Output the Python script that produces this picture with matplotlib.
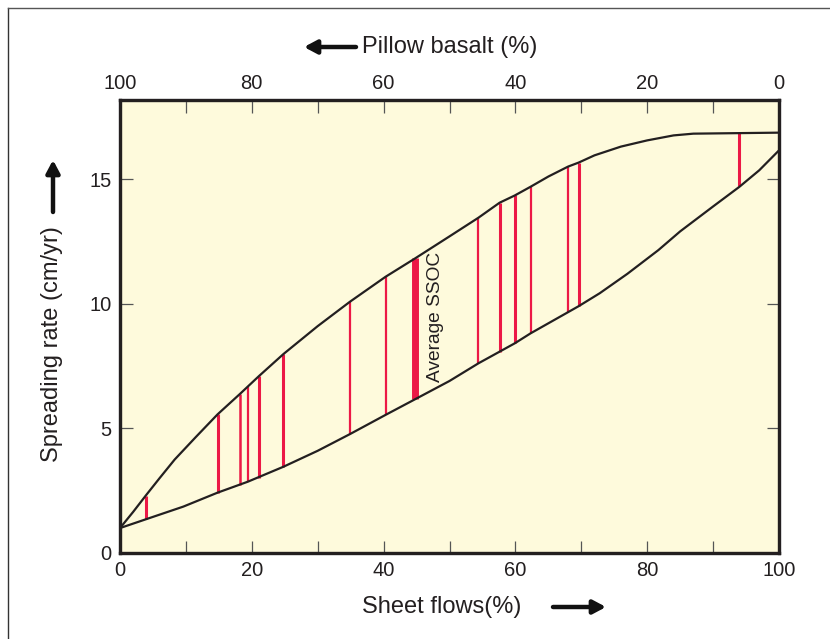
import matplotlib
matplotlib.use("Agg")
import matplotlib.pyplot as plt
from matplotlib.lines import Line2D
from matplotlib.ticker import MultipleLocator, FixedLocator
from matplotlib import font_manager

names = {f.name for f in font_manager.fontManager.ttflist}
NARROW = 'Liberation Sans Narrow' in names

plt.rcParams['font.family'] = ['Liberation Sans', 'DejaVu Sans']

# ---- data ----
upper_x = [0, 2, 3.9, 6, 8.3, 11.5, 14.8, 18.2, 21.1, 24.8, 30, 34.9, 40.3, 44.8,
           50, 54.4, 57.6, 59.9, 62.3, 65, 68.0, 69.6, 72, 76, 80, 84, 87, 100]
upper_y = [1.0, 1.65, 2.3, 3.0, 3.75, 4.65, 5.56, 6.38, 7.1, 7.98, 9.1, 10.08, 11.08, 11.82,
           12.7, 13.45, 14.05, 14.34, 14.69, 15.1, 15.5, 15.66, 15.95, 16.3, 16.55, 16.75, 16.82, 16.86]

lower_x = [0, 3.9, 9.6, 14.8, 19.4, 24.8, 30, 34.9, 40.3, 44.8, 50, 54.4, 59.9, 62.3,
           69.6, 72.8, 77, 81.7, 85, 90, 94, 97, 100]
lower_y = [1.0, 1.35, 1.86, 2.42, 2.86, 3.46, 4.1, 4.77, 5.54, 6.17, 6.9, 7.61, 8.41, 8.81,
           9.9, 10.42, 11.2, 12.15, 12.9, 13.9, 14.69, 15.35, 16.15]

# red bars: sheet-flow percentage, bottom and top spreading rate
bar_x = [3.9, 14.8, 18.2, 19.4, 21.1, 24.8, 34.9, 40.3, 44.8, 54.4, 57.6, 59.9, 62.3, 68.0, 69.6, 94.0]
bar_lo = [1.35, 2.42, 2.73, 2.86, 3.0, 3.46, 4.77, 5.54, 6.17, 7.61, 8.08, 8.41, 8.81, 9.68, 9.9, 14.72]
bar_hi = [2.30, 5.56, 6.38, 6.67, 7.1, 7.98, 10.08, 11.08, 11.82, 13.45, 14.05, 14.34, 14.69, 15.5, 15.66, 16.85]
bar_w = [2.2, 2.2, 1.8, 1.6, 2.2, 2.2, 1.6, 1.6, 5.0, 1.6, 2.2, 2.2, 1.6, 1.6, 2.2, 2.2]

bottom_ticks = [0, 20, 40, 60, 80, 100]
top_ticks = [0, 20, 40, 60, 80, 100]
y_ticks = [0, 5, 10, 15]

BG = '#FEFADC'
RED = '#EC1846'
INK = '#231F20'

if NARROW:
    TXT = dict(family=['Liberation Sans Narrow', 'Liberation Sans'])
    TICK_FS, LAB_FS, ANN_FS = 16, 19, 15.5
else:
    TXT = dict(family=['Liberation Sans'])
    TICK_FS, LAB_FS, ANN_FS = 14.5, 17, 13.8

fig = plt.figure(figsize=(8.30, 6.39), dpi=100)
fig.patch.set_facecolor('white')

W, H = 830, 639
ax = fig.add_axes([120 / W, 1 - 553 / H, (779 - 120) / W, (553 - 100) / H])
ax.set_facecolor(BG)
ax.set_xlim(0, 100)
ax.set_ylim(0, 18.17)

ax.plot(upper_x, upper_y, color=INK, lw=1.6, solid_joinstyle='round', zorder=3)
ax.plot(lower_x, lower_y, color=INK, lw=1.6, solid_joinstyle='round', zorder=3)
for x, lo, hi, w in zip(bar_x, bar_lo, bar_hi, bar_w):
    ax.vlines(x, lo, hi, colors=RED, lw=w, zorder=2)

ax.text(47.8, 9.47, 'Average SSOC', rotation=90, ha='center', va='center',
        fontsize=ANN_FS, color=INK, **TXT)

for s in ax.spines.values():
    s.set_linewidth(2.3)
    s.set_color(INK)

ax.xaxis.set_major_locator(FixedLocator(bottom_ticks))
ax.xaxis.set_minor_locator(MultipleLocator(10))
ax.yaxis.set_major_locator(FixedLocator(y_ticks))
ax.tick_params(axis='both', which='both', direction='in', length=9, width=0.9,
               color='#555555', labelsize=TICK_FS, labelcolor=INK, pad=6)
ax.tick_params(axis='y', right=True, labelright=False)

top = ax.twiny()
top.set_xlim(100, 0)
top.xaxis.set_major_locator(FixedLocator(top_ticks))
top.xaxis.set_minor_locator(MultipleLocator(10))
top.tick_params(axis='x', which='both', direction='in', length=9, width=0.9,
                color='#555555', labelsize=TICK_FS, labelcolor=INK, pad=5)
for s in top.spines.values():
    s.set_linewidth(2.3)
    s.set_color(INK)

for lab in ax.get_xticklabels() + ax.get_yticklabels() + top.get_xticklabels():
    lab.set_family(TXT['family'])

def fx(px):
    return px / W

def fy(py):
    return 1 - py / H

fig.text(fx(450), fy(47), 'Pillow basalt (%)', ha='center', va='center',
         fontsize=LAB_FS, color=INK, **TXT)
fig.text(fx(442), fy(607), 'Sheet flows(%)', ha='center', va='center',
         fontsize=LAB_FS, color=INK, **TXT)
fig.text(fx(52), fy(344), 'Spreading rate (cm/yr)', ha='center', va='center',
         rotation=90, fontsize=LAB_FS, color=INK, **TXT)

arrow_kw = dict(arrowstyle='-|>,head_length=0.75,head_width=0.4', color='#111111',
                lw=3.2, shrinkA=0, shrinkB=0)
ax.annotate('', xy=(fx(304), fy(47)), xytext=(fx(356), fy(47)),
            xycoords='figure fraction', textcoords='figure fraction',
            arrowprops=arrow_kw, annotation_clip=False)
ax.annotate('', xy=(fx(606), fy(607)), xytext=(fx(553), fy(607)),
            xycoords='figure fraction', textcoords='figure fraction',
            arrowprops=arrow_kw, annotation_clip=False)
ax.annotate('', xy=(fx(53), fy(160)), xytext=(fx(53), fy(212)),
            xycoords='figure fraction', textcoords='figure fraction',
            arrowprops=arrow_kw, annotation_clip=False)

fig.add_artist(Line2D([fx(8), fx(8)], [fy(8), 0], transform=fig.transFigure,
                      color='#333333', lw=1.0))
fig.add_artist(Line2D([fx(8), 1], [fy(8), fy(8)], transform=fig.transFigure,
                      color='#555555', lw=1.0))

fig.savefig('out.png', dpi=100, facecolor='white')
